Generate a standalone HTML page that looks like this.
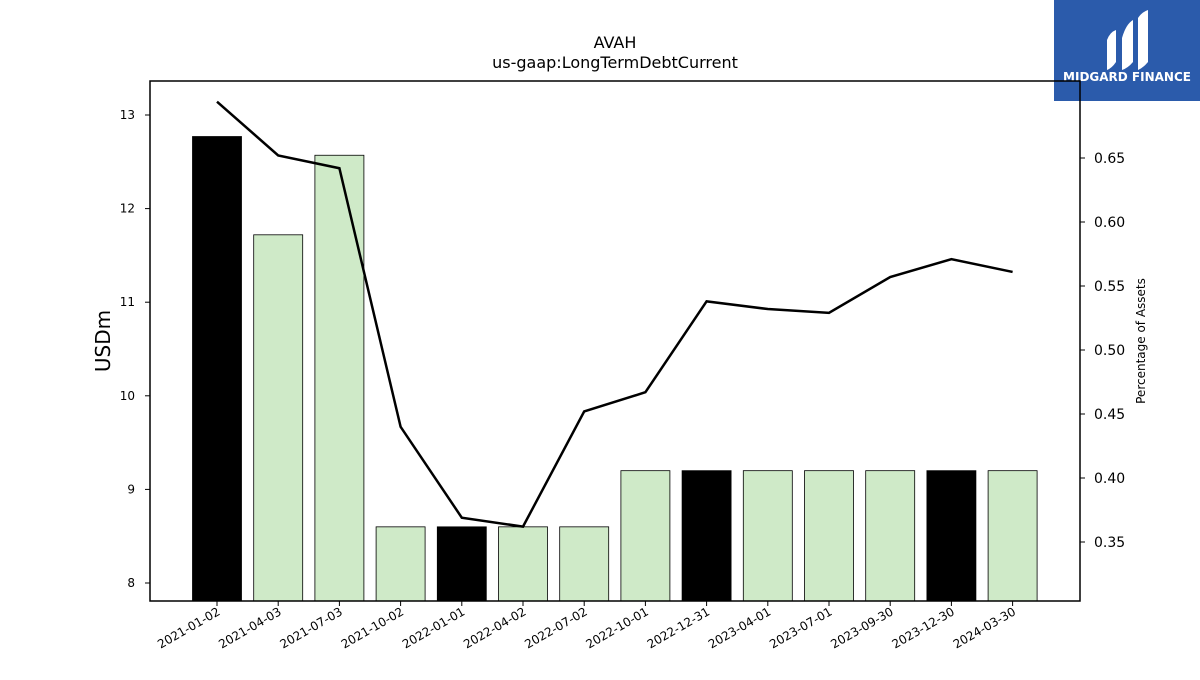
<!DOCTYPE html>
<html><head><meta charset="utf-8"><style>
body{margin:0;background:#fff;}
svg text{font-family:"DejaVu Sans","Liberation Sans",sans-serif;}
</style></head><body>
<svg id="c" width="1200" height="675" xmlns="http://www.w3.org/2000/svg">
<rect x="1054" y="0" width="146" height="101" fill="#2b5bab"/>
<g fill="#fff">
<path d="M1107 40 Q1110 32 1116 30 L1116 62 Q1112 68 1107 70 Z"/>
<path d="M1122 38 Q1126 24 1133 20 L1133 62 Q1128 68 1122 70 Z"/>
<path d="M1138 18 Q1142 12 1148 10 L1148 62 Q1143 68 1138 70 Z"/>
</g>
<text x="1127" y="81" text-anchor="middle" font-size="12" font-weight="bold" fill="#fff">MIDGARD FINANCE</text>
<text x="615" y="48" text-anchor="middle" font-size="16">AVAH</text>
<text x="615" y="68" text-anchor="middle" font-size="16">us-gaap:LongTermDebtCurrent</text>
<text transform="translate(110,341) rotate(-90)" text-anchor="middle" font-size="20">USDm</text>
<text transform="translate(1145,341) rotate(-90)" text-anchor="middle" font-size="12">Percentage of Assets</text>
<g id="bars"></g><g id="line"></g><g id="axes"></g>
<rect x="150" y="81" width="930" height="520" fill="none" stroke="#000" stroke-width="1.5"/>
</svg>
<script>
const categories=["2021-01-02","2021-04-03","2021-07-03","2021-10-02","2022-01-01","2022-04-02","2022-07-02","2022-10-01","2022-12-31","2023-04-01","2023-07-01","2023-09-30","2023-12-30","2024-03-30"];
const debtValues=[12.77,11.72,12.57,8.6,8.6,8.6,8.6,9.2,9.2,9.2,9.2,9.2,9.2,9.2];
const highlighted=[1,0,0,0,1,0,0,0,1,0,0,0,1,0];
const pctAssets=[0.694,0.652,0.642,0.440,0.369,0.362,0.452,0.467,0.538,0.532,0.529,0.557,0.571,0.561];
const leftTicks=[8,9,10,11,12,13];
const rightTicks=[0.35,0.40,0.45,0.50,0.55,0.60,0.65];
const NS="http://www.w3.org/2000/svg";
const x=i=>217+i*61.2;
const yL=v=>583-(v-8)*93.6;
const yR=v=>542-(v-0.35)*1280;
function el(t,a,p){const e=document.createElementNS(NS,t);for(const k in a)e.setAttribute(k,a[k]);document.getElementById(p).appendChild(e);return e;}
categories.forEach((c,i)=>{
 const r=el('rect',{x:x(i)-24.5,y:yL(debtValues[i]),width:49,height:601-yL(debtValues[i]),fill:highlighted[i]?'#000':'#cfeac8',stroke:'#000','stroke-width':0.8},'bars');
 
 
 const t=el('line',{x1:x(i),x2:x(i),y1:601,y2:606,stroke:'#000'},'axes');
 
 
 const l=el('text',{transform:`translate(${x(i)+4},${614}) rotate(-30)`,'text-anchor':'end','font-size':12},'axes');
 l.textContent=c;
 
 
});
const pl=el('polyline',{points:pctAssets.map((v,i)=>x(i)+','+yR(v)).join(' '),fill:'none',stroke:'#000','stroke-width':2.5},'line');


leftTicks.forEach(v=>{
 const t=el('line',{x1:145,x2:150,y1:yL(v),y2:yL(v),stroke:'#000'},'axes');
 
 
 const l=el('text',{x:135,y:yL(v)+4,'text-anchor':'end','font-size':12},'axes');
 l.textContent=v;
 
 
});
rightTicks.forEach(v=>{
 const t=el('line',{x1:1080,x2:1085,y1:yR(v),y2:yR(v),stroke:'#000'},'axes');
 
 
 const l=el('text',{x:1094,y:yR(v)+5,'font-size':14},'axes');
 l.textContent=v.toFixed(2);
 
 
});
</script>
</body></html>
